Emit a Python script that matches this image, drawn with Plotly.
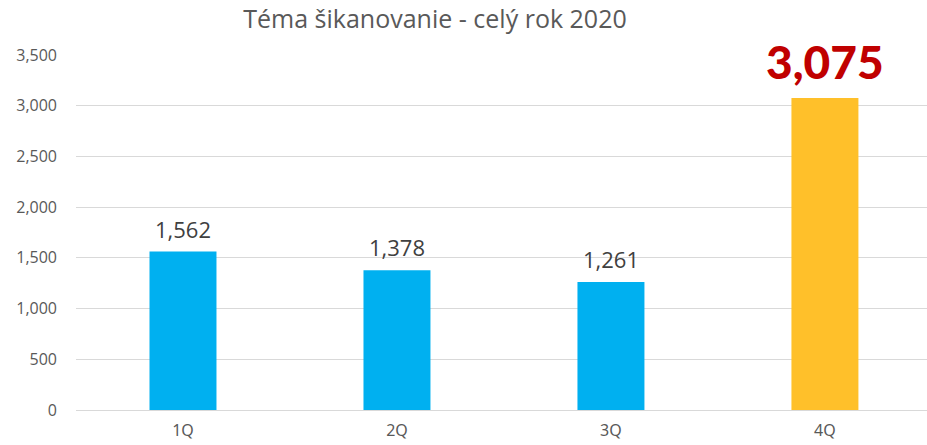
import plotly.graph_objects as go

categories = ["1Q", "2Q", "3Q", "4Q"]
values = [1562, 1378, 1261, 3075]
bar_colors = ["#00B0F0", "#00B0F0", "#00B0F0", "#FFC02A"]
label_colors = ["#404040", "#404040", "#404040", "#C00000"]
label_sizes = [22, 22, 22, 46]
label_families = ["Open Sans", "Open Sans", "Open Sans", "Lato"]
label_weights = [400, 400, 400, 900]
label_shifts = [6, 6, 6, 7]
y_ticks = [0, 500, 1000, 1500, 2000, 2500, 3000, 3500]
y_tick_labels = ["0", "500", "1,000", "1,500", "2,000", "2,500", "3,000", "3,500"]

fig = go.Figure(go.Bar(
    x=categories, y=values,
    marker=dict(color=bar_colors, line=dict(width=0)),
    hoverinfo="x+y",
))

for c, v, col, sz, fam, w, sh in zip(categories, values, label_colors, label_sizes,
                                     label_families, label_weights, label_shifts):
    fig.add_annotation(x=c, y=v, text=f"{v:,}", showarrow=False, yanchor="bottom",
                       yshift=sh, font=dict(color=col, size=sz, family=fam, weight=w))

fig.update_layout(
    width=927, height=445,
    margin=dict(l=76, r=0, t=55, b=35),
    paper_bgcolor="white", plot_bgcolor="white",
    bargap=0.687,
    showlegend=False,
    font=dict(family="Open Sans", color="#595959"),
    title=dict(text="Téma šikanovanie - celý rok 2020", x=435/927, xanchor="center",
               y=1 - 19/445, yanchor="middle",
               font=dict(size=25, color="#595959", family="Open Sans")),
    xaxis=dict(range=[-0.5, 3.477], showgrid=False, showline=True, linecolor="#D9D9D9",
               linewidth=1, tickfont=dict(size=16, color="#595959", family="Noto Sans"),
               ticks="", ticklabelstandoff=6),
    yaxis=dict(range=[0, 3500], tickvals=y_ticks, ticktext=y_tick_labels,
               showgrid=True, gridcolor="#D9D9D9", gridwidth=1, zeroline=False,
               tickfont=dict(size=16, color="#595959"), ticks="", ticklabelstandoff=18),
)

fig.write_html("out.html", config={"displayModeBar": False},
               post_script="document.body.style.margin='0';")
